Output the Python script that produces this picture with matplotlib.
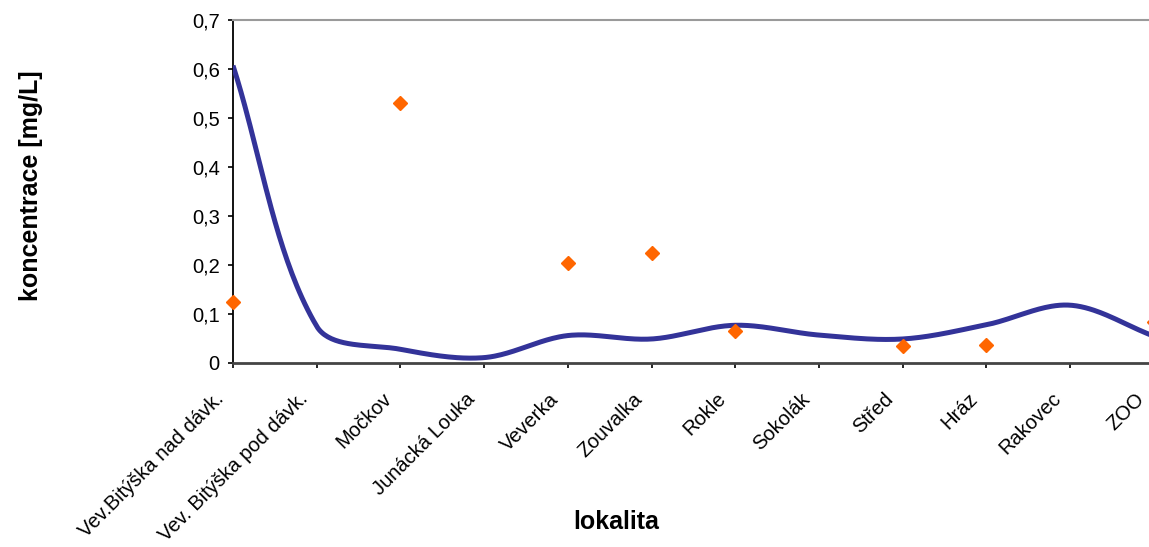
import numpy as np
import matplotlib
matplotlib.use("Agg")
import matplotlib.pyplot as plt
from matplotlib.ticker import FuncFormatter
from matplotlib.transforms import ScaledTranslation

plt.rcParams['font.family'] = ['Liberation Sans', 'DejaVu Sans']

lokality = ["Vev.Bitýška nad dávk.", "Vev. Bitýška pod dávk.", "Močkov",
            "Junácká Louka", "Veverka", "Zouvalka", "Rokle", "Sokolák",
            "Střed", "Hráz", "Rakovec", "ZOO"]
prumer = [0.607, 0.075, 0.028, 0.011, 0.056, 0.049, 0.077, 0.057,
          0.049, 0.078, 0.118, 0.055]
mereni = [0.124, np.nan, 0.530, np.nan, 0.204, 0.225, 0.066, np.nan,
          0.035, 0.037, np.nan, 0.084]
y_ticks = [0.0, 0.1, 0.2, 0.3, 0.4, 0.5, 0.6, 0.7]


def smooth_curve(ax, y, steps=40):
    """Cubic Bezier pieces through the points, tangents scaled by chord
    length (computed in display space), returned in data coordinates."""
    y = np.asarray(y, dtype=float)
    x = np.arange(len(y), dtype=float)
    P = ax.transData.transform(np.column_stack([x, y]))
    n = len(P)
    out = []
    for i in range(n - 1):
        p0 = P[max(i - 1, 0)]
        p1 = P[i]
        p2 = P[i + 1]
        p3 = P[min(i + 2, n - 1)]
        d01 = np.linalg.norm(p1 - p0)
        d12 = np.linalg.norm(p2 - p1)
        d23 = np.linalg.norm(p3 - p2)
        c1 = p1 + (p2 - p0) * (d12 / (d01 + d12)) / 3
        c2 = p2 - (p3 - p1) * (d12 / (d12 + d23)) / 3
        t = np.linspace(0, 1, steps, endpoint=(i == n - 2))[:, None]
        seg = ((1 - t) ** 3 * p1 + 3 * (1 - t) ** 2 * t * c1
               + 3 * (1 - t) * t ** 2 * c2 + t ** 3 * p2)
        out.append(seg)
    pts = ax.transData.inverted().transform(np.vstack(out))
    return pts[:, 0], pts[:, 1]


W, H = 1149, 547
fig = plt.figure(figsize=(W / 100, H / 100), dpi=100)
x0, x_step = 233, 83.7
ax = fig.add_axes([x0 / W, (H - 363) / H, (11 * x_step) / W, (363 - 20) / H])
ax.set_xlim(0, 11)
ax.set_ylim(0, 0.7)

sx, sy = smooth_curve(ax, prumer)
ax.plot(sx, sy, color="#333399", lw=3.6, solid_capstyle="butt", zorder=3)

xi = np.arange(len(lokality))
ax.plot(xi, mereni, linestyle="none", marker="D", markersize=7.5,
        color="#FF6600", markeredgecolor="#FF6600", clip_on=False, zorder=4)

ax.set_yticks(y_ticks)
ax.yaxis.set_major_formatter(FuncFormatter(
    lambda v, p: "0" if abs(v) < 1e-9 else f"{v:.1f}".replace(".", ",")))
for lab in ax.get_yticklabels():
    lab.set_fontsize(14.5)

# category ticks; their labels are drawn slanted, ending just left of each tick
ax.set_xticks(xi)
ax.set_xticklabels([])
label_offset = ax.get_xaxis_transform() + ScaledTranslation(
    -12 / 100, -33 / 100, fig.dpi_scale_trans)
for i, name in zip(xi, lokality):
    ax.text(i, 0, name, transform=label_offset, rotation=45, ha="right",
            va="center", rotation_mode="anchor", fontsize=14.5,
            clip_on=False)

ax.tick_params(axis="both", direction="out", length=3.6, width=1.2,
               color="black")
ax.tick_params(axis="y", pad=6)

ax.spines["right"].set_visible(False)
ax.spines["top"].set_color("#9a9a9a")
ax.spines["top"].set_linewidth(1.5)
ax.spines["left"].set_color("black")
ax.spines["left"].set_linewidth(1.3)
ax.spines["bottom"].set_color("#444444")
ax.spines["bottom"].set_linewidth(2)

fig.text(616 / W, 1 - 522 / H, "lokalita", ha="center", va="center",
         fontsize=18, fontweight="bold")
fig.text(31 / W, 1 - 186 / H, "koncentrace [mg/L]", ha="center",
         va="center", rotation=90, fontsize=18, fontweight="bold")

fig.savefig("out.png", dpi=100)
